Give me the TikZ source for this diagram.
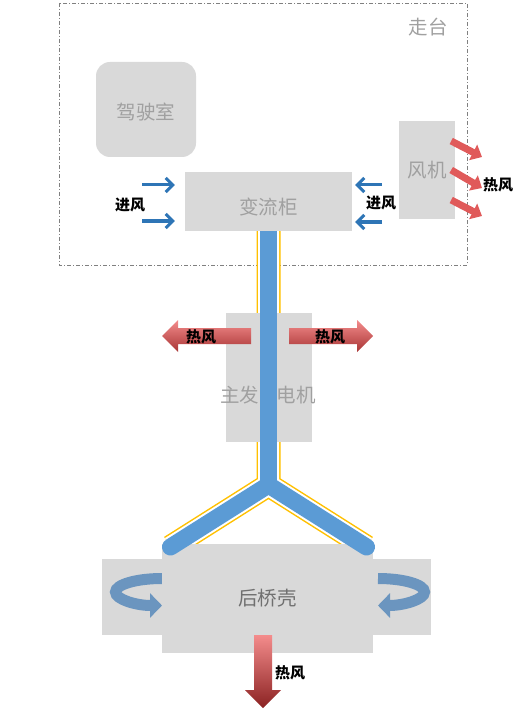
\documentclass[tikz,border=0pt]{standalone}
\usepackage{fontspec}
\setmainfont{Noto Sans CJK SC}
\usetikzlibrary{arrows.meta,backgrounds}
\definecolor{boxgray}{HTML}{D9D9D9}
\definecolor{txtgray}{HTML}{A0A0A0}
\definecolor{axlegray}{HTML}{707070}
\definecolor{shaftblue}{HTML}{5B9BD5}
\definecolor{edgeyellow}{HTML}{FFC000}
\definecolor{airblue}{HTML}{2E75B6}
\definecolor{fanred}{HTML}{E05A5A}
\definecolor{hotlight}{HTML}{F48C8C}
\definecolor{hotdark}{HTML}{A83434}
\definecolor{hotdeep}{HTML}{8B2222}
\definecolor{curlblue}{HTML}{6B95BF}
\tikzset{
  box/.style={fill=boxgray, inner sep=0pt, text=txtgray, font=\fontsize{19.5}{22}\selectfont},
  lbl/.style={inner sep=0pt, text=txtgray, font=\fontsize{19.5}{22}\selectfont},
  hotlbl/.style={inner sep=0pt, font=\fontsize{15}{17}\selectfont\bfseries},
  inflow/.style={draw=airblue, line width=3pt, -{Straight Barb[length=7pt,width=14pt]}},
  fanhot/.style={draw=fanred, line width=7pt, -{Triangle[length=10pt,width=17pt]}},
  shaft/.style={draw=shaftblue, line width=17pt},
  hotarrow/.style={top color=hotlight, bottom color=hotdark},
  hotdown/.style={top color=hotlight, bottom color=hotdeep},
  curl/.style={draw=curlblue, line width=11pt, -{Triangle[length=12pt,width=24pt]}},
  deckframe/.style={draw=gray, line width=0.6pt, dash pattern=on 4pt off 2pt on 1pt off 2pt}
}
\begin{document}
\begin{tikzpicture}[x=1pt,y=1pt]
\useasboundingbox (0,0) rectangle (525,-711);
% deck and cabinets
\node[lbl] (deck) at (428,-27) {走台};
\node[box, rounded corners=14pt, text height=22pt, minimum width=100pt, minimum height=95pt] (cab) at (146,-109.5) {驾驶室};
\node[box, minimum width=56pt, minimum height=98pt] (fan) at (427,-170) {风机};
\node[box, text height=27pt, minimum width=167pt, minimum height=59pt] (conv) at (268.5,-201.5) {变流柜};
\node[box, minimum width=86pt, minimum height=129pt] (gen) at (268.5,-377.5) {};
\node[lbl] (genL) at (239.5,-395) {主发};
\node[lbl] (genR) at (296,-395) {电机};
% rear axle
\node[box, minimum width=329pt, minimum height=76pt] (axleW) at (266.5,-597) {};
\coordinate (curlL) at (162,-578.5);
\coordinate (curlR) at (378,-578.5);
\draw[curl] (curlL) arc[start angle=90, end angle=270, x radius=46.5, y radius=13.5];
\draw[curl] (curlR) arc[start angle=90, end angle=-90, x radius=46.5, y radius=13.5];
\node[box, text=axlegray, minimum width=211pt, minimum height=109pt] (axle) at (267.5,-598.5) {后桥壳};
% shaft
\coordinate (fork) at (268.5,-485);
\coordinate (endL) at (170.5,-547);
\coordinate (endR) at (366.5,-547);
\begin{scope}[on background layer]
\draw[deckframe] (59,-3) rectangle (467,-265);
\draw[edgeyellow, line width=24pt] (conv.south) -- (fork) (endL) -- (fork) -- (endR);
\draw[white, line width=21pt] (conv.south) -- (fork) (endL) -- (fork) -- (endR);
\end{scope}
\draw[shaft] (conv.south) -- (fork);
\draw[shaft, line cap=round] (endL) -- (fork) -- (endR);
% inflow
\coordinate (inL1) at (142,-185);
\coordinate (inL2) at (142,-221);
\coordinate (inR1) at (382,-185);
\coordinate (inR2) at (382,-222);
\draw[inflow] (inL1) -- ([xshift=-10pt,yshift=16.5pt]conv.west);
\draw[inflow] (inL2) -- ([xshift=-10pt,yshift=-19.5pt]conv.west);
\draw[inflow] (inR1) -- ([xshift=3pt,yshift=16.5pt]conv.east);
\draw[inflow] (inR2) -- ([xshift=3pt,yshift=-20.5pt]conv.east);
\node[hotlbl] (inLlbl) at (130,-205) {进风};
\node[hotlbl] (inRlbl) at (381,-203) {进风};
% fan exhaust
\coordinate (fo1) at (482,-157);
\coordinate (fo2) at (482,-188);
\coordinate (fo3) at (482,-216);
\draw[fanhot] ([xshift=-4pt,yshift=29pt]fan.east) -- (fo1);
\draw[fanhot] ([xshift=-4pt]fan.east) -- (fo2);
\draw[fanhot] ([xshift=-4pt,yshift=-30pt]fan.east) -- (fo3);
\node[hotlbl] (fanlbl) at (498,-185) {热风};
% hot air
\shade[hotarrow] (251,-328) -- (178,-328) -- (178,-320) -- (162,-336) -- (178,-352) -- (178,-344) -- (251,-344) -- cycle;
\shade[hotarrow] (289,-328) -- (357,-328) -- (357,-320) -- (373,-336) -- (357,-352) -- (357,-344) -- (289,-344) -- cycle;
\shade[hotdown] (254,-635) -- (272,-635) -- (272,-690) -- (281,-690) -- (263,-708) -- (245,-690) -- (254,-690) -- cycle;
\node[hotlbl] (hotL) at (201,-337) {热风};
\node[hotlbl] (hotR) at (330,-337) {热风};
\node[hotlbl] (hotB) at (290,-673) {热风};
\end{tikzpicture}
\end{document}
